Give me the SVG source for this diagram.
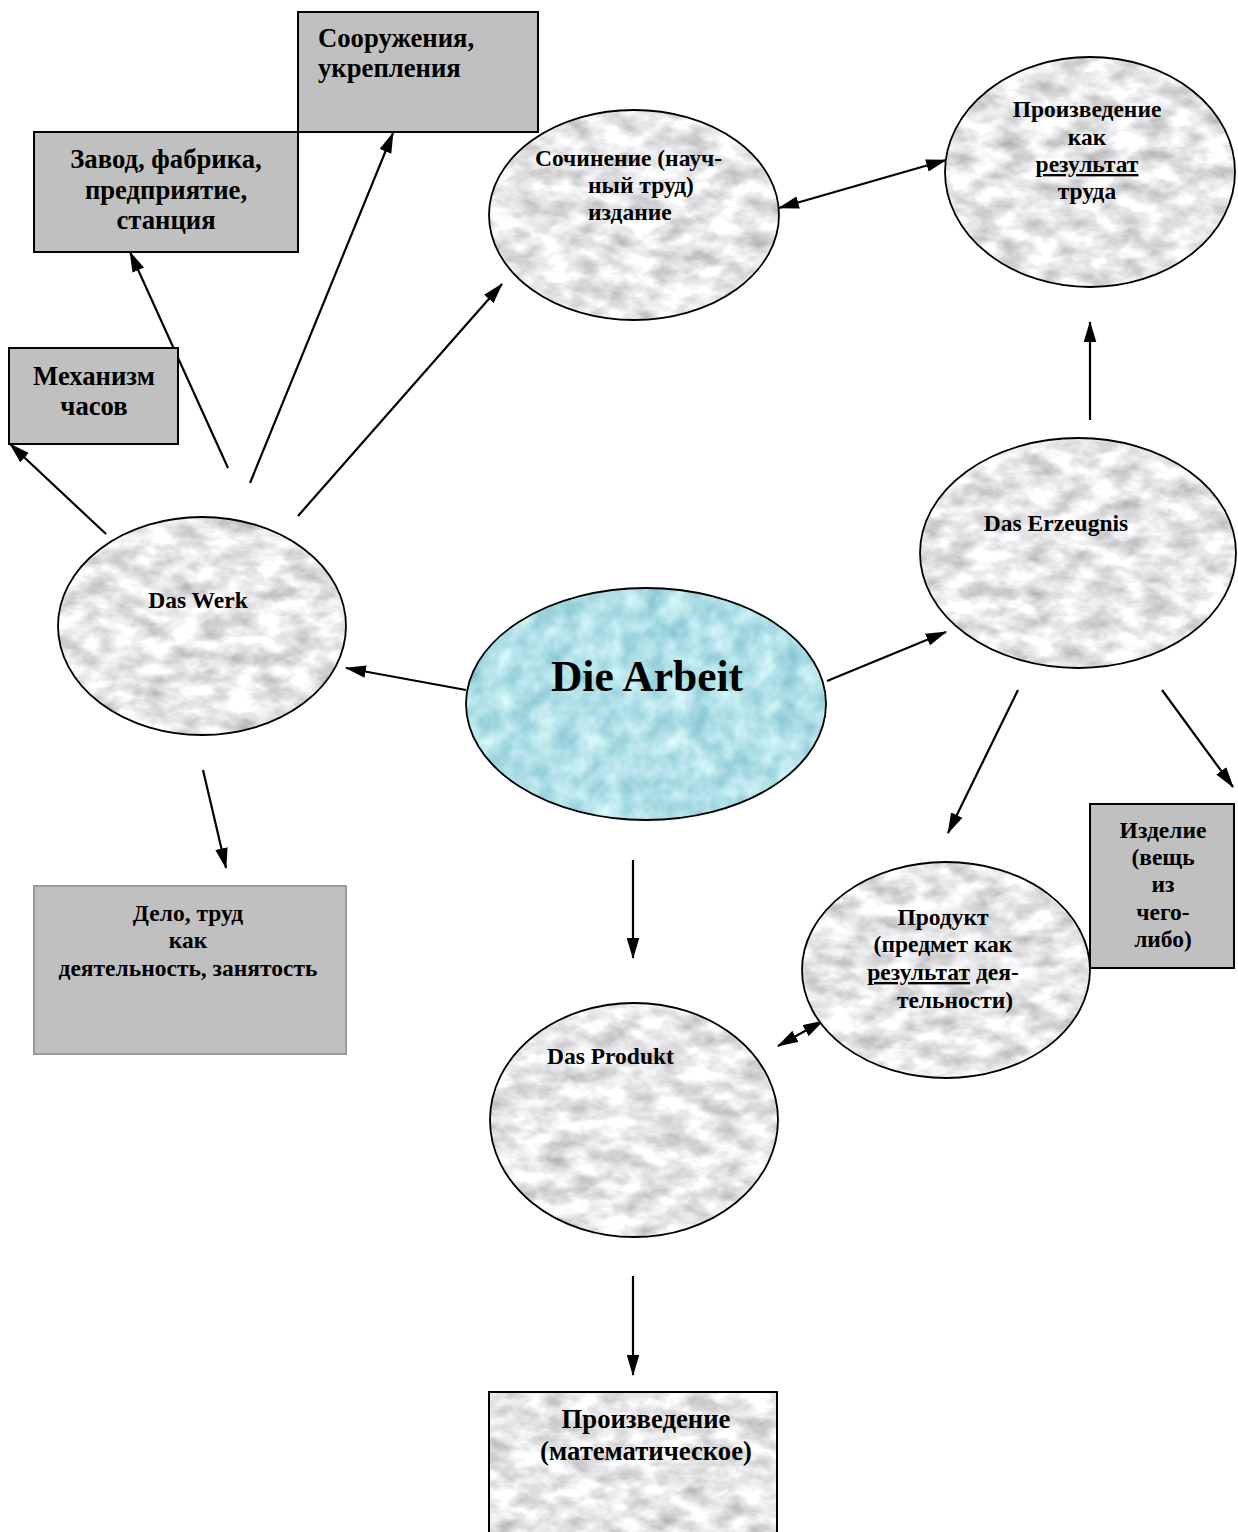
<svg xmlns="http://www.w3.org/2000/svg" width="1238" height="1532" viewBox="0 0 1238 1532">
<defs>
<style>
text{font-family:"Liberation Serif","Times New Roman",serif;font-weight:bold;fill:#000;}
.t{font-size:26.7px;}
.s{font-size:23.5px;}
.box{fill:#c0c0c0;stroke:#000;stroke-width:2;}
.edge{fill:none;stroke:#000;stroke-width:1.8;}
.conn{stroke:#000;stroke-width:2.2;fill:none;marker-end:url(#ah);}
.bi{marker-start:url(#ah);}
</style>
<filter id="marble" x="0" y="0" width="100%" height="100%" color-interpolation-filters="sRGB">
<feTurbulence type="fractalNoise" baseFrequency="0.035 0.06" numOctaves="4" seed="7" result="n"/>
<feColorMatrix in="n" type="matrix" values="0.5 0 0 0 0.66  0.5 0 0 0 0.66  0.5 0 0 0 0.67  0 0 0 0 1" result="g"/>
<feComposite in="g" in2="SourceGraphic" operator="in"/>
</filter>
<filter id="water" x="0" y="0" width="100%" height="100%" color-interpolation-filters="sRGB">
<feTurbulence type="fractalNoise" baseFrequency="0.045" numOctaves="3" seed="4" result="n"/>
<feColorMatrix in="n" type="matrix" values="0.45 0 0 0 0.47  0.28 0 0 0 0.74  0.22 0 0 0 0.8  0 0 0 0 1" result="g"/>
<feComposite in="g" in2="SourceGraphic" operator="in"/>
</filter>
<marker id="ah" viewBox="0 0 20 12" refX="19" refY="6" markerWidth="21" markerHeight="13" markerUnits="userSpaceOnUse" orient="auto-start-reverse">
<path d="M0,0 L20,6 L0,12 z" fill="#000"/>
</marker>
</defs>
<rect width="1238" height="1532" fill="#fff"/>

<g id="connectors">
<line class="conn" x1="466" y1="690" x2="346" y2="668"/>
<line class="conn" x1="827" y1="681" x2="946" y2="632"/>
<line class="conn" x1="633" y1="860" x2="633" y2="958"/>
<line class="conn" x1="106" y1="534" x2="10" y2="444"/>
<line class="conn" x1="228" y1="468" x2="130" y2="252"/>
<line class="conn" x1="250" y1="483" x2="393" y2="133"/>
<line class="conn" x1="298" y1="516" x2="502" y2="284"/>
<line class="conn" x1="203" y1="770" x2="226" y2="868"/>
<line class="conn bi" x1="779" y1="208" x2="946" y2="160"/>
<line class="conn" x1="1090" y1="420" x2="1090" y2="322"/>
<line class="conn" x1="1018" y1="690" x2="948" y2="833"/>
<line class="conn" x1="1162" y1="690" x2="1233" y2="787"/>
<line class="conn bi" x1="778" y1="1046" x2="823" y2="1021"/>
<line class="conn" x1="633" y1="1276" x2="633" y2="1375"/>
</g>

<g id="n-sooruzheniya">
<rect class="box" x="298" y="12" width="240" height="120"/>
<text class="t" x="318" y="47">Сооружения,</text>
<text class="t" x="318" y="77">укрепления</text>
</g>

<g id="n-zavod">
<rect class="box" x="34" y="132" width="264" height="120"/>
<text class="t" text-anchor="middle" x="166" y="168">Завод, фабрика,</text>
<text class="t" text-anchor="middle" x="166" y="199">предприятие,</text>
<text class="t" text-anchor="middle" x="166" y="229">станция</text>
</g>

<g id="n-mekhanizm">
<rect class="box" x="9" y="348" width="169" height="96"/>
<text class="t" text-anchor="middle" x="94" y="385">Механизм</text>
<text class="t" text-anchor="middle" x="94" y="415">часов</text>
</g>

<g id="n-sochinenie">
<ellipse cx="634" cy="215" rx="145" ry="105" fill="#fff" filter="url(#marble)"/>
<ellipse class="edge" cx="634" cy="215" rx="145" ry="105"/>
<text class="s" x="535" y="166">Сочинение (науч-</text>
<text class="s" x="588" y="193">ный труд)</text>
<text class="s" x="588" y="220">издание</text>
</g>

<g id="n-proizvedenie">
<ellipse cx="1090" cy="172" rx="145" ry="115" fill="#fff" filter="url(#marble)"/>
<ellipse class="edge" cx="1090" cy="172" rx="145" ry="115"/>
<text class="s" text-anchor="middle" x="1087" y="117">Произведение</text>
<text class="s" text-anchor="middle" x="1087" y="145">как</text>
<text class="s" text-anchor="middle" x="1087" y="172" text-decoration="underline">результат</text>
<text class="s" text-anchor="middle" x="1087" y="199">труда</text>
</g>

<g id="n-erzeugnis">
<ellipse cx="1078" cy="553" rx="158" ry="115" fill="#fff" filter="url(#marble)"/>
<ellipse class="edge" cx="1078" cy="553" rx="158" ry="115"/>
<text class="s" text-anchor="middle" x="1056" y="531">Das Erzeugnis</text>
</g>

<g id="n-werk">
<ellipse cx="202" cy="626" rx="144" ry="109" fill="#fff" filter="url(#marble)"/>
<ellipse class="edge" cx="202" cy="626" rx="144" ry="109"/>
<text class="s" text-anchor="middle" x="198" y="608">Das Werk</text>
</g>

<g id="n-arbeit">
<ellipse cx="646" cy="704" rx="180" ry="116" fill="#fff" filter="url(#water)"/>
<ellipse class="edge" cx="646" cy="704" rx="180" ry="116"/>
<text x="647" y="691" text-anchor="middle" font-size="43.5">Die Arbeit</text>
</g>

<g id="n-delo">
<rect x="34" y="886" width="312" height="168" fill="#c0c0c0" stroke="#9a9a9a" stroke-width="2"/>
<text class="s" text-anchor="middle" x="188" y="921">Дело, труд</text>
<text class="s" text-anchor="middle" x="188" y="948">как</text>
<text class="s" text-anchor="middle" x="188" y="976">деятельность, занятость</text>
</g>

<g id="n-izdelie">
<rect class="box" x="1090" y="804" width="144" height="164"/>
<text class="s" text-anchor="middle" x="1163" y="838">Изделие</text>
<text class="s" text-anchor="middle" x="1163" y="865">(вещь</text>
<text class="s" text-anchor="middle" x="1163" y="892">из</text>
<text class="s" text-anchor="middle" x="1163" y="920">чего-</text>
<text class="s" text-anchor="middle" x="1163" y="947">либо)</text>
</g>

<g id="n-produkt-ru">
<ellipse cx="946" cy="970" rx="144" ry="108" fill="#fff" filter="url(#marble)"/>
<ellipse class="edge" cx="946" cy="970" rx="144" ry="108"/>
<text class="s" text-anchor="middle" x="943" y="925">Продукт</text>
<text class="s" text-anchor="middle" x="943" y="952">(предмет как</text>
<text class="s" text-anchor="middle" x="943" y="980"><tspan text-decoration="underline">результат</tspan> дея-</text>
<text class="s" text-anchor="middle" x="955" y="1008">тельности)</text>
</g>

<g id="n-das-produkt">
<ellipse cx="634" cy="1120" rx="144" ry="117" fill="#fff" filter="url(#marble)"/>
<ellipse class="edge" cx="634" cy="1120" rx="144" ry="117"/>
<text class="s" x="547" y="1064">Das Produkt</text>
</g>

<g id="n-mathematisch">
<rect x="489" y="1392" width="288" height="150" fill="#fff" filter="url(#marble)"/>
<rect x="489" y="1392" width="288" height="150" fill="none" stroke="#000" stroke-width="2"/>
<text class="t" text-anchor="middle" x="646" y="1428">Произведение</text>
<text class="t" text-anchor="middle" x="646" y="1460">(математическое)</text>
</g>
</svg>
